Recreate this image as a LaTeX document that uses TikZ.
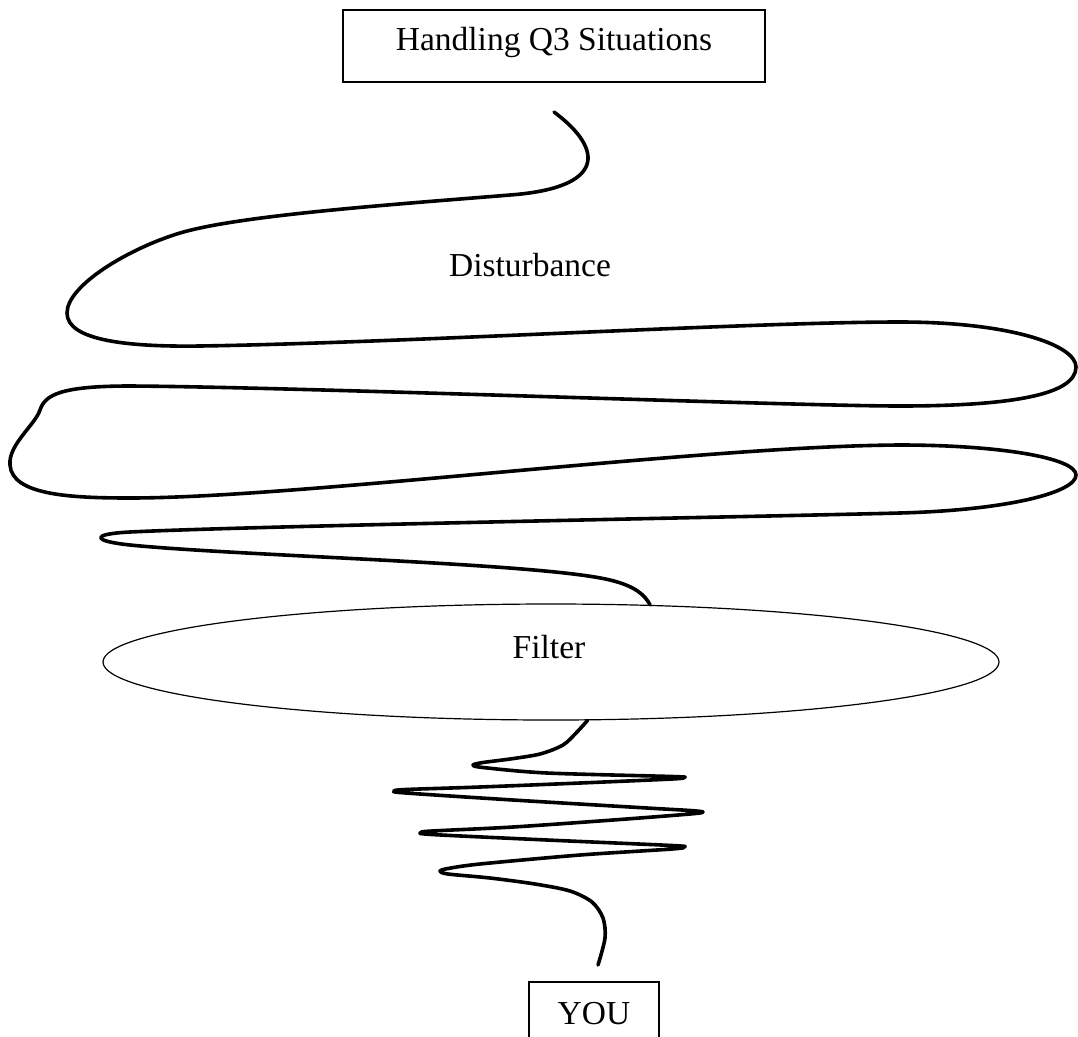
\documentclass[tikz,border=0pt]{standalone}
\usepackage{fontspec}
\setmainfont{Liberation Serif}
\usetikzlibrary{shapes.geometric}
\begin{document}
\begin{tikzpicture}[x=1pt,y=-1pt,
  box/.style={draw,line width=1.4pt,font=\fontsize{33.5}{40}\selectfont,inner sep=0pt},
  oval/.style={ellipse,draw,fill=white,line width=1.2pt,minimum width=896pt,minimum height=116pt,inner sep=0pt},
  lbl/.style={font=\fontsize{33.5}{40}\selectfont,inner sep=0pt},
  squiggle/.style={line width=3.6pt,line cap=round,line join=round}]
  \useasboundingbox (0,0) rectangle (1078,1036);
  \node[box,minimum width=422pt,minimum height=72pt,text height=22pt,text depth=13pt] (title) at (554,46) {Handling Q3 Situations};
  \node[lbl] (dist) at (530,265) {Disturbance};
  \node[oval] (filter) at (551,662) {};
  \node[lbl] (filterlbl) at (549,647) {Filter};
  \node[box,minimum width=130pt,minimum height=64pt] (you) at (594,1014) {YOU};
  \coordinate (dtop) at (554,112);
  \coordinate (ybot) at (598,965);
  \draw[squiggle] (dtop) .. controls (605,150) and (605,188) .. (510,195)
    .. controls (400,204) and (240,215) .. (180,233)
    .. controls (130,248) and (67,285) .. (67,313)
    .. controls (67,341) and (130,347) .. (200,346)
    .. controls (400,343) and (750,322) .. (900,322)
    .. controls (1010,322) and (1076,345) .. (1076,367)
    .. controls (1076,395) and (1010,406) .. (900,406)
    .. controls (790,406) and (300,387) .. (130,386)
    .. controls (60,386) and (45,395) .. (40,410)
    .. controls (35,425) and (8,445) .. (10,465)
    .. controls (12,495) and (70,498) .. (130,498)
    .. controls (300,498) and (700,446) .. (900,445)
    .. controls (1000,445) and (1076,458) .. (1076,475)
    .. controls (1076,492) and (1010,510) .. (900,513)
    .. controls (790,516) and (250,526) .. (130,532)
    .. controls (90,534) and (92,541) .. (130,545)
    .. controls (240,556) and (540,563) .. (610,580)
    .. controls (635,586) and (645,595) .. (filter.30);
  \draw[squiggle] plot[smooth] coordinates {(filter.-58) (577,732) (563,745) (540,754) (510,759)
    (483,762.5) (473,765) (483,767.5) (547,773) (672,776.5) (684,777.5) (672,779)
    (580,783) (480,787) (406,789.5) (394,791) (406,793) (513,800) (647,808) (690,810.5) (703,812) (690,814)
    (613,820) (513,827) (432,831) (421,832.5) (432,834.5) (547,840) (672,845.5) (684,847) (672,849)
    (580,855) (480,864) (448,868.5) (440,871) (448,874) (490,878) (535,884) (570,891) (592,902) (603,918) (605,938) (ybot)};
\end{tikzpicture}
\end{document}
